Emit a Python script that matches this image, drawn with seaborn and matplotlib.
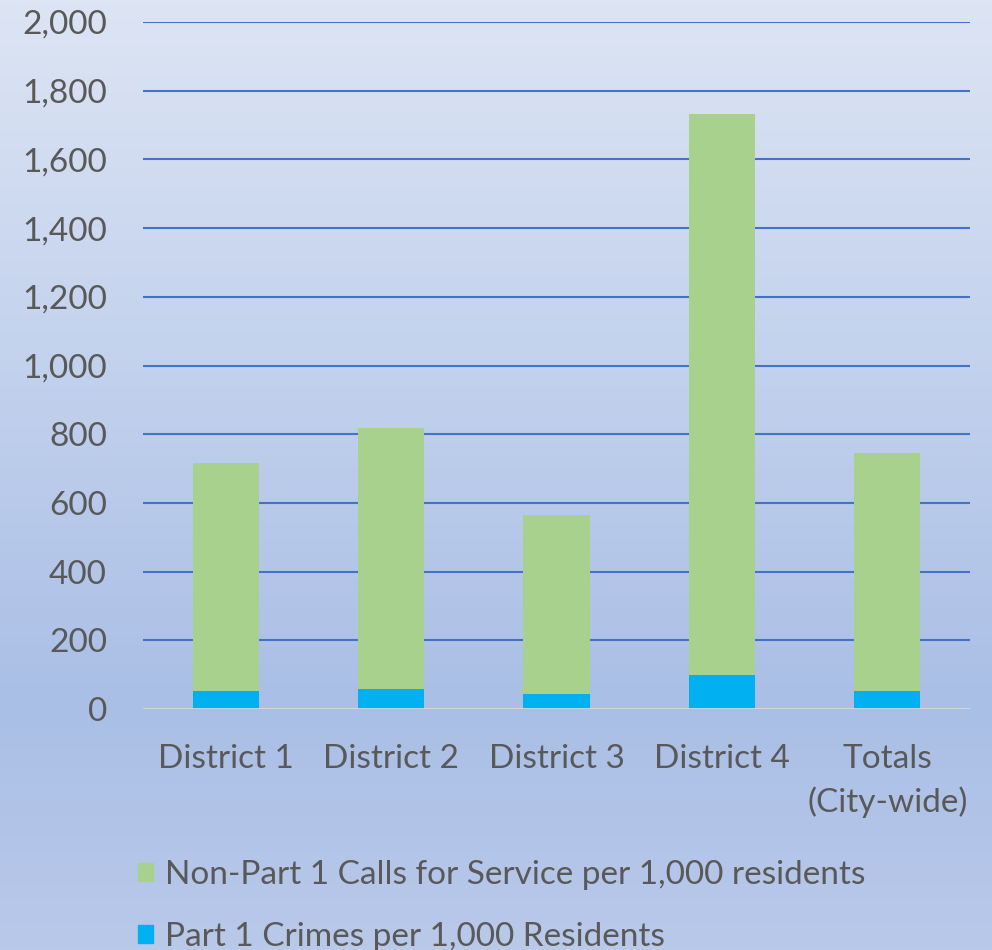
import numpy as np
import pandas as pd
import seaborn as sns
import matplotlib.pyplot as plt
from matplotlib.colors import LinearSegmentedColormap
from matplotlib.patches import Patch

# ---------------- data ----------------
districts = ["District 1", "District 2", "District 3", "District 4", "Totals\n(City-wide)"]
part1 = [52, 58, 44, 99, 52]
non_part1 = [664, 760, 521, 1633, 693]
y_ticks = [0, 200, 400, 600, 800, 1000, 1200, 1400, 1600, 1800, 2000]

df = pd.DataFrame({"district": districts, "part1": part1, "non_part1": non_part1})
df["total"] = df["part1"] + df["non_part1"]

green = "#a9d18e"
blue = "#00b0f0"
grid_col = "#4472c4"
text_col = "#595959"

sns.set_theme(style="white")
plt.rcParams["font.family"] = ["Lato", "DejaVu Sans"]

fig = plt.figure(figsize=(9.92, 9.5), dpi=100)

# gradient background
bg = fig.add_axes([0, 0, 1, 1], zorder=0)
cmap = LinearSegmentedColormap.from_list(
    "bg", [(0, "#dde5f4"), (0.74, "#aabfe6"), (1, "#b9c9ea")])
grad = np.linspace(0, 1, 256).reshape(-1, 1)
bg.imshow(grad, cmap=cmap, aspect="auto", extent=[0, 1, 0, 1], origin="upper")
bg.axis("off")

ax = fig.add_axes([143 / 992, 1 - 709 / 950, (970 - 143) / 992, (709 - 22) / 950], zorder=1)
ax.patch.set_alpha(0)

sns.barplot(data=df, x="district", y="total", color=green, width=0.4,
            saturation=1, linewidth=0, ax=ax, zorder=3)
sns.barplot(data=df, x="district", y="part1", color=blue, width=0.4,
            saturation=1, linewidth=0, ax=ax, zorder=3)

ax.set_ylim(0, 2000)
ax.set_xlim(-0.5, len(districts) - 0.5)
ax.set_yticks(y_ticks)
ax.set_yticklabels([f"{v:,}" for v in y_ticks])
for v in y_ticks[1:]:
    ax.axhline(v, color=grid_col, lw=1.5, zorder=1)
ax.axhline(0, color="#d9d9d9", lw=2, zorder=4)

for s in ax.spines.values():
    s.set_visible(False)
ax.tick_params(axis="both", length=0, labelsize=24, labelcolor=text_col)
ax.tick_params(axis="y", pad=26)
ax.tick_params(axis="x", pad=25)
for t in ax.get_xticklabels():
    t.set_linespacing(1.5)
ax.set_xlabel("")
ax.set_ylabel("")

handles = [Patch(color=green), Patch(color=blue)]
labels = ["Non-Part 1 Calls for Service per 1,000 residents",
          "Part 1 Crimes per 1,000 Residents"]
fig.legend(handles, labels, loc="upper left", bbox_to_anchor=(108 / 992, 1 - 830 / 950),
           frameon=False, fontsize=24, labelcolor=text_col, handlelength=0.45,
           handleheight=0.45, handletextpad=0.35, labelspacing=0.95)

fig.savefig("out.png", dpi=100)
